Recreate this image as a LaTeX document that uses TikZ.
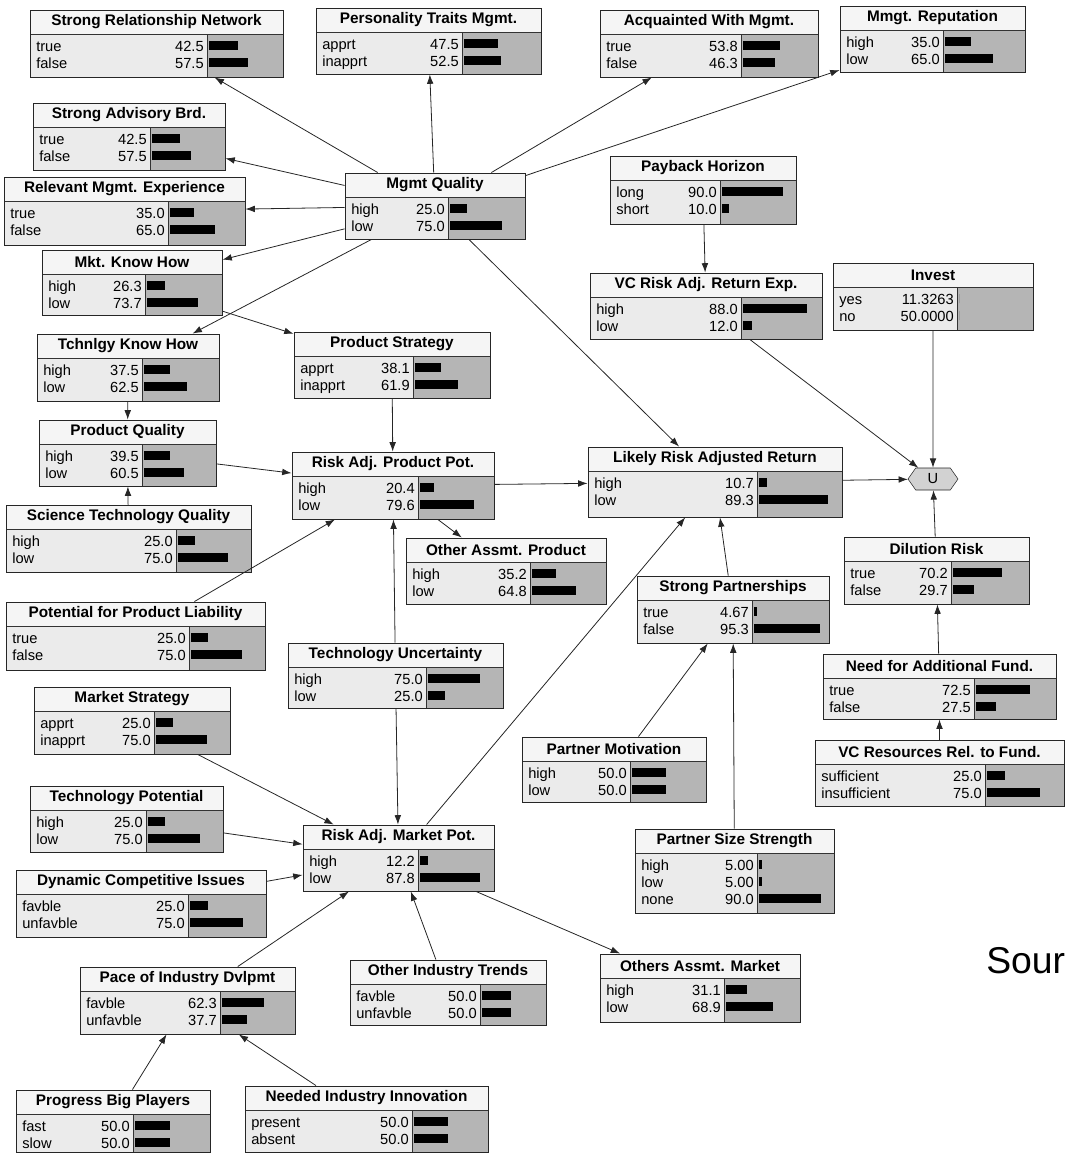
\documentclass[tikz,border=0pt]{standalone}
\usepackage{fontspec}
\setmainfont{Liberation Sans}
\usetikzlibrary{fit,arrows.meta,shapes.symbols}

\tikzset{
  titlefill/.style={fill=gray!8},
  statefill/.style={fill=gray!16},
  barfill/.style={fill=gray!58},
  rule/.style={draw=black!80, line width=0.6pt},
  titletext/.style={font=\fontsize{11.5}{13}\selectfont\bfseries, inner sep=0pt},
  statetext/.style={font=\fontsize{11}{12}\selectfont, inner sep=0pt},
  link/.style={-{Latex[length=7pt,width=5pt]}, line width=0.6pt, draw=black!85},
}

% belief node: [bar factor]{name}{left}{top}{right}{bottom}{bar start}{title}{state/value list}
\newcommand\bnnode[9][1]{%
  \fill[titlefill] (#3,#4) rectangle (#5,#4+24);
  \fill[statefill] (#3,#4+24) rectangle (#7,#6);
  \fill[barfill] (#7,#4+24) rectangle (#5,#6);
  \draw[rule] (#3,#4+24) -- (#5,#4+24);
  \draw[rule] (#7,#4+24) -- (#7,#6);
  \node[titletext] at ({(#3+#5)/2},#4+12) {#8};
  \foreach \st/\val [count=\n] in {#9}{
    \node[statetext, anchor=base west] at (#3+6,{#4+24+\n*17}) {\st};
    \node[statetext, anchor=base east] at (#7-3,{#4+24+\n*17}) {\val};
    \fill (#7+2,{#4+24+\n*17-10}) rectangle ({#7+2+#1*\val/100*(#5-#7-8)},{#4+24+\n*17-1});
  }
  \node (#2) [fit={(#3,#4) (#5,#6)}, inner sep=0pt, draw=black!85, line width=0.7pt] {};
}

\begin{document}
\begin{tikzpicture}[x=0.75pt, y=-0.75pt]
\useasboundingbox (0,0) rectangle (1066,1154);

% management block
\bnnode{srn}{30}{10}{283}{77}{207}{Strong Relationship Network}{true/42.5, false/57.5}
\bnnode{ptm}{316}{8}{541}{74}{462}{Personality Traits Mgmt.}{apprt/47.5, inapprt/52.5}
\bnnode{awm}{600}{10}{818}{77}{741}{Acquainted With Mgmt.}{true/53.8, false/46.3}
\bnnode{mrep}{840}{6}{1025}{72}{943}{Mmgt. Reputation}{high/35.0, low/65.0}
\bnnode{sab}{33}{103}{225}{170}{150}{Strong Advisory Brd.}{true/42.5, false/57.5}
\bnnode{rme}{4}{177}{245}{245}{168}{Relevant Mgmt. Experience}{true/35.0, false/65.0}
\bnnode{mq}{345}{173}{525}{239}{448}{Mgmt Quality}{high/25.0, low/75.0}
\bnnode{mkh}{42}{250}{222}{315}{145}{Mkt. Know How}{high/26.3, low/73.7}

% return side
\bnnode{pbh}{610}{156}{796}{224}{720}{Payback Horizon}{long/90.0, short/10.0}
\bnnode{vcr}{590}{273}{822}{339}{741}{VC Risk Adj. Return Exp.}{high/88.0, low/12.0}
\bnnode[0]{inv}{833}{263}{1033}{330}{957}{Invest}{yes/11.3263, no/50.0000}

% product block
\bnnode{tkh}{37}{334}{219}{401}{142}{Tchnlgy Know How}{high/37.5, low/62.5}
\bnnode{pstr}{294}{332}{490}{398}{413}{Product Strategy}{apprt/38.1, inapprt/61.9}
\bnnode{pq}{39}{420}{216}{486}{142}{Product Quality}{high/39.5, low/60.5}
\bnnode{rapp}{292}{452}{494}{519}{418}{Risk Adj. Product Pot.}{high/20.4, low/79.6}
\bnnode{stq}{6}{505}{251}{572}{176}{Science Technology Quality}{high/25.0, low/75.0}
\bnnode{oap}{406}{538}{606}{604}{530}{Other Assmt. Product}{high/35.2, low/64.8}
\bnnode{ppl}{6}{602}{265}{670}{189}{Potential for Product Liability}{true/25.0, false/75.0}
\bnnode{tu}{288}{643}{503}{708}{426}{Technology Uncertainty}{high/75.0, low/25.0}

% outcome block
\bnnode{lrar}{588}{447}{842}{517}{757}{Likely Risk Adjusted Return}{high/10.7, low/89.3}
\node (u) [signal, signal to=east and west, signal pointer angle=110, draw=black!85,
  fill=gray!35, minimum width=37.5pt, minimum height=16.5pt, inner sep=0pt,
  font=\fontsize{11}{12}\selectfont] at (933,479) {U};
\bnnode{sp}{637}{576}{829}{643}{752}{Strong Partnerships}{true/4.67, false/95.3}
\bnnode{dil}{844}{537}{1029}{604}{951}{Dilution Risk}{true/70.2, false/29.7}
\bnnode{naf}{823}{654}{1056}{719}{974}{Need for Additional Fund.}{true/72.5, false/27.5}
\bnnode{vcrf}{815}{740}{1064}{806}{985}{VC Resources Rel. to Fund.}{sufficient/25.0, insufficient/75.0}
\bnnode{pm}{522}{737}{706}{802}{630}{Partner Motivation}{high/50.0, low/50.0}
\bnnode{pss}{635}{829}{834}{913}{757}{Partner Size Strength}{high/5.00, low/5.00, none/90.0}

% market block
\bnnode{mstr}{34}{687}{230}{754}{154}{Market Strategy}{apprt/25.0, inapprt/75.0}
\bnnode{tp}{30}{786}{223}{852}{146}{Technology Potential}{high/25.0, low/75.0}
\bnnode{dci}{16}{870}{266}{937}{188}{Dynamic Competitive Issues}{favble/25.0, unfavble/75.0}
\bnnode{ramp}{303}{825}{494}{891}{418}{Risk Adj. Market Pot.}{high/12.2, low/87.8}
\bnnode{pid}{80}{967}{295}{1034}{220}{Pace of Industry Dvlpmt}{favble/62.3, unfavble/37.7}
\bnnode{oit}{350}{960}{546}{1025}{480}{Other Industry Trends}{favble/50.0, unfavble/50.0}
\bnnode{oam}{600}{954}{800}{1022}{724}{Others Assmt. Market}{high/31.1, low/68.9}
\bnnode{pbp}{16}{1090}{210}{1152}{133}{Progress Big Players}{fast/50.0, slow/50.0}
\bnnode{nii}{245}{1086}{488}{1152}{412}{Needed Industry Innovation}{present/50.0, absent/50.0}

\node (src) [anchor=base west, inner sep=0pt, font=\fontsize{28}{30}\selectfont] at (986,973) {Sour};

% links
\draw[link] (mq) -- (srn);
\draw[link] (mq) -- (ptm);
\draw[link] (mq) -- (awm);
\draw[link] (mq) -- (mrep);
\draw[link] (mq) -- (sab);
\draw[link] (mq) -- (rme);
\draw[link] (mq) -- (mkh);
\draw[link] (mq) -- (tkh);
\draw[link] (mq) -- (lrar);
\draw[link] (mkh) -- (pstr);
\draw[link] (tkh) -- (pq);
\draw[link] (stq) -- (pq);
\draw[link] (pq) -- (rapp);
\draw[link] (pstr) -- (rapp);
\draw[link] (ppl) -- (rapp);
\draw[link] (tu) -- (rapp);
\draw[link] (rapp) -- (oap);
\draw[link] (rapp) -- (lrar);
\draw[link] (tu) -- (ramp);
\draw[link] (pbh) -- (vcr);
\draw[link] (vcr) -- (u);
\draw[link] (inv) -- (u);
\draw[link] (lrar) -- (u);
\draw[link] (dil) -- (u);
\draw[link] (naf) -- (dil);
\draw[link] (vcrf) -- (naf);
\draw[link] (sp) -- (lrar);
\draw[link] (ramp) -- (lrar);
\draw[link] (pm) -- (sp);
\draw[link] (pss) -- (sp);
\draw[link] (mstr) -- (ramp);
\draw[link] (tp) -- (ramp);
\draw[link] (dci) -- (ramp);
\draw[link] (pid) -- (ramp);
\draw[link] (oit) -- (ramp);
\draw[link] (ramp) -- (oam);
\draw[link] (pbp) -- (pid);
\draw[link] (nii) -- (pid);

\end{tikzpicture}
\end{document}
